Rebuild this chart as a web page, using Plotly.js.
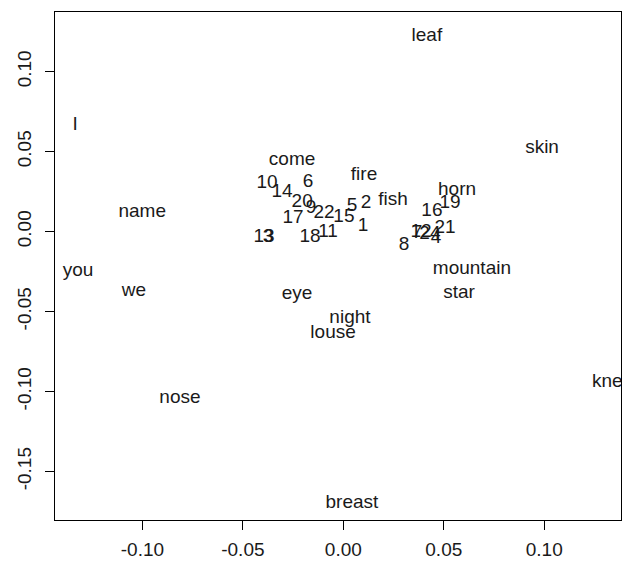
<!DOCTYPE html>
<html>
<head>
<meta charset="utf-8">
<script src="https://cdn.plot.ly/plotly-3.0.1.min.js"></script>
<style>html,body{margin:0;padding:0;background:#fff;}#chart{width:622px;height:569px;}</style>
</head>
<body>
<div id="chart"></div>
<script>
// Word labels (text plotted at their coordinates)
var wordLabels = ["leaf","I","skin","come","fire","horn","fish","name","you","we","eye","mountain","star","night","louse","knee","nose","breast"];
var wordX = [0.0416,-0.1335,0.0989,-0.0255,0.0103,0.0566,0.0247,-0.1001,-0.1320,-0.1042,-0.0230,0.0640,0.0576,0.0033,-0.0051,0.1340,-0.0813,0.0043];
var wordY = [0.1223,0.0666,0.0523,0.0448,0.0354,0.0260,0.0198,0.0123,-0.0246,-0.0371,-0.0390,-0.0234,-0.0384,-0.0540,-0.0634,-0.0940,-0.1040,-0.1696];

// Numbered labels
var numLabels = ["1","2","3","4","5","6","7","8","9","10","11","12","13","14","15","16","17","18","19","20","21","22","24"];
var numX = [0.0098,0.0113,-0.0375,0.0461,0.0043,-0.0176,0.0367,0.0302,-0.0161,-0.0380,-0.0076,0.0387,-0.0395,-0.0305,0.0003,0.0441,-0.0250,-0.0166,0.0531,-0.0205,0.0506,-0.0096,0.0431];
var numY = [0.0035,0.0179,-0.0034,-0.0040,0.0160,0.0310,-0.0009,-0.0084,0.0148,0.0304,-0.0003,-0.0003,-0.0034,0.0248,0.0091,0.0129,0.0085,-0.0034,0.0179,0.0185,0.0023,0.0116,-0.0015];

// Tick values and labels
var xTicks = [-0.10,-0.05,0.00,0.05,0.10];
var xTickText = ["-0.10","-0.05","0.00","0.05","0.10"];
var yTicks = [-0.15,-0.10,-0.05,0.00,0.05,0.10];
var yTickText = ["-0.15","-0.10","-0.05","0.00","0.05","0.10"];

var labelFont = {family: "Liberation Sans, Arial, sans-serif", size: 19, color: "#1a1a1a"};
var tickFont = {family: "Liberation Sans, Arial, sans-serif", size: 19, color: "#1a1a1a"};

var traces = [
  {x: wordX, y: wordY, text: wordLabels, mode: "text", type: "scatter",
   textposition: "middle center", textfont: labelFont, cliponaxis: true, hoverinfo: "none", showlegend: false},
  {x: numX, y: numY, text: numLabels, mode: "text", type: "scatter",
   textposition: "middle center", textfont: labelFont, cliponaxis: true, hoverinfo: "none", showlegend: false}
];

var axisCommon = {
  showgrid: false, zeroline: false, showline: true, mirror: true,
  linecolor: "#000", linewidth: 1, ticks: "outside", ticklen: 9, tickwidth: 1,
  tickcolor: "#000", tickfont: tickFont, tickmode: "array"
};

var layout = {
  width: 622, height: 569,
  margin: {l: 55, r: 1, t: 12, b: 49, pad: 0},
  paper_bgcolor: "#fff", plot_bgcolor: "#fff",
  xaxis: Object.assign({}, axisCommon, {range: [-0.1435, 0.1382], tickvals: xTicks, ticktext: xTickText, ticklabelstandoff: 3}),
  yaxis: Object.assign({}, axisCommon, {range: [-0.1803, 0.1373], tickvals: yTicks, ticktext: yTickText, tickangle: -90, ticklabelstandoff: 6}),
  showlegend: false
};

Plotly.newPlot("chart", traces, layout, {staticPlot: true, displayModeBar: false});
</script>
</body>
</html>
